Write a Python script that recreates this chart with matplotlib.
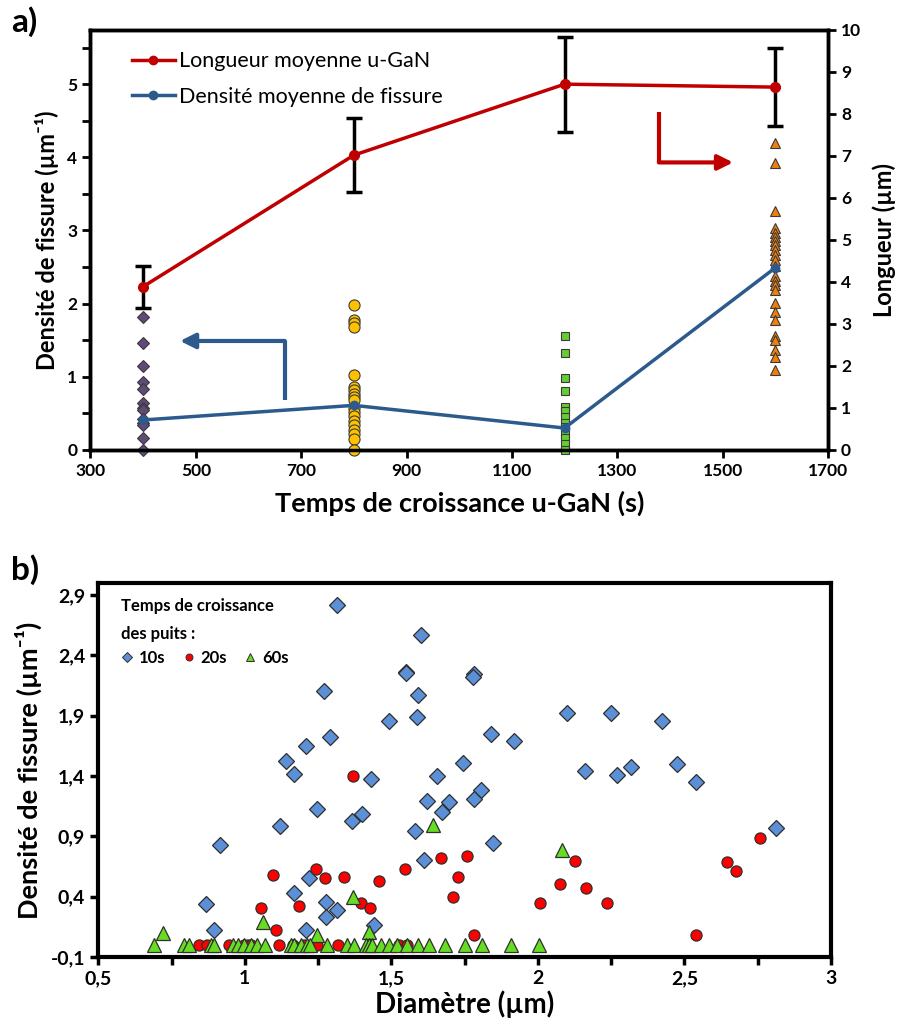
import matplotlib
matplotlib.use("Agg")
import matplotlib.pyplot as plt
from matplotlib.lines import Line2D
from matplotlib.ticker import FuncFormatter, MultipleLocator
import numpy as np

plt.rcParams["font.family"] = ["Lato", "DejaVu Sans"]

# ---- panel a) data ----
times = [400, 800, 1200, 1600]
longueur_moy = [3.89, 7.02, 8.71, 8.64]
longueur_err = [0.50, 0.88, 1.13, 0.93]
densite_moy = [0.41, 0.61, 0.30, 2.49]

dens_400 = [1.82, 1.46, 1.15, 0.93, 0.83, 0.64, 0.58, 0.55, 0.43, 0.37, 0.34, 0.17, 0.0]
dens_800 = [1.98, 1.78, 1.74, 1.68, 1.02, 0.86, 0.82, 0.77, 0.72, 0.68, 0.57, 0.52,
            0.46, 0.39, 0.34, 0.27, 0.22, 0.15, 0.0]
dens_1200 = [1.56, 1.33, 0.99, 0.81, 0.59, 0.53, 0.45, 0.37, 0.31, 0.24, 0.16, 0.08, 0.0]
dens_1600 = [4.20, 3.92, 3.27, 3.03, 2.97, 2.91, 2.86, 2.80, 2.73, 2.66, 2.60, 2.51,
             2.38, 2.31, 2.25, 2.18, 2.01, 1.89, 1.78, 1.56, 1.50, 1.37, 1.27, 1.09]

# ---- panel b) data ----
d10 = [1.313, 1.600, 1.551, 1.549, 1.783, 1.779, 1.270, 1.591, 1.589, 1.491, 1.290,
       1.209, 1.141, 1.169, 1.432, 1.654, 1.744, 1.805, 1.622, 1.696, 1.783, 1.672,
       1.399, 1.367, 1.247, 1.119, 1.581, 0.916, 1.612, 1.219, 1.169, 1.278, 1.313,
       1.278, 0.867, 0.896, 1.209, 1.440, 2.100, 2.249, 2.422, 1.839, 1.918, 2.160,
       2.269, 2.318, 2.473, 2.541, 2.814, 1.848]
v10 = [2.818, 2.571, 2.262, 2.250, 2.242, 2.222, 2.105, 2.070, 1.892, 1.853, 1.722,
       1.651, 1.522, 1.415, 1.379, 1.401, 1.511, 1.284, 1.196, 1.188, 1.210, 1.103,
       1.081, 1.029, 1.125, 0.982, 0.947, 0.829, 0.705, 0.552, 0.434, 0.352, 0.289,
       0.234, 0.338, 0.125, 0.125, 0.166, 1.919, 1.919, 1.853, 1.747, 1.689, 1.440,
       1.412, 1.473, 1.497, 1.352, 0.968, 0.842]

d20 = [1.368, 1.243, 1.096, 1.273, 1.337, 1.458, 1.546, 1.671, 1.758, 1.729, 1.710,
       1.056, 1.184, 1.395, 1.426, 1.106, 1.781, 2.007, 2.076, 2.126, 2.165, 2.236,
       2.538, 2.645, 2.675, 2.759,
       0.843, 0.871, 0.947, 0.996, 1.010, 1.021, 1.116, 1.165, 1.202, 1.236, 1.247,
       1.319, 1.527, 1.555]
v20 = [1.399, 0.626, 0.577, 0.552, 0.566, 0.530, 0.626, 0.722, 0.733, 0.566, 0.399,
       0.305, 0.325, 0.349, 0.303, 0.125, 0.086, 0.349, 0.505, 0.697, 0.470, 0.349,
       0.078, 0.686, 0.615, 0.886,
       0, 0, 0, 0, 0, 0, 0, 0, 0, 0, 0, 0, 0, 0]

d60 = [1.641, 1.370, 1.061, 0.720, 1.247, 1.423, 2.081,
       0.690, 0.793, 0.811, 0.884, 0.896, 0.958, 0.975, 0.998, 1.021, 1.041, 1.070,
       1.156, 1.169, 1.192, 1.212, 1.222, 1.279, 1.347, 1.372, 1.412, 1.423, 1.435,
       1.463, 1.492, 1.520, 1.555, 1.592, 1.629, 1.684, 1.751, 1.809, 1.907, 2.002]
v60 = [0.990, 0.399, 0.188, 0.097, 0.084, 0.111, 0.788] + [0] * 33


def comma(v, pos):
    return ("%g" % round(v, 2)).replace(".", ",")


fig = plt.figure(figsize=(9.01, 10.34), dpi=100)

# ================= panel a =================
ax = fig.add_axes([0.1004, 0.5648, 0.8185, 0.4062])
ax2 = ax.twinx()

red = "#C00000"
blue = "#2C5A8C"

for x, vals, mk, fc, ms in [(400, dens_400, "D", "#604A7B", 6),
                             (800, dens_800, "o", "#FFC000", 8),
                             (1200, dens_1200, "s", "#66CC33", 6),
                             (1600, dens_1600, "^", "#F07F09", 7.5)]:
    ax.plot([x] * len(vals), vals, ls="none", marker=mk, ms=ms, mfc=fc,
            mec="#3a3a3a", mew=0.8, zorder=3, clip_on=False)

ax.plot(times, densite_moy, color=blue, lw=2.5, marker="o", ms=6, zorder=4)
ax2.errorbar(times, longueur_moy, yerr=longueur_err, color=red, lw=2.5,
             marker="o", ms=7, ecolor="black", elinewidth=2.5, capsize=6,
             capthick=2.5, zorder=5)

# arrows
ax.plot([669, 669], [0.68, 1.49], color=blue, lw=3, solid_capstyle="butt")
ax.annotate("", xy=(470, 1.49), xytext=(669, 1.49),
            arrowprops=dict(arrowstyle="-|>,head_length=0.9,head_width=0.45",
                            color=blue, lw=3, shrinkA=0, shrinkB=0))
ax.plot([1379, 1379], [4.62, 3.93], color=red, lw=3, solid_capstyle="butt")
ax.annotate("", xy=(1520, 3.93), xytext=(1379, 3.93),
            arrowprops=dict(arrowstyle="-|>,head_length=0.9,head_width=0.45",
                            color=red, lw=3, shrinkA=0, shrinkB=0))

ax.set_xlim(300, 1700)
ax.set_ylim(0, 5.74)
ax2.set_ylim(0, 10)
ax.set_xticks(range(300, 1701, 200))
ax.yaxis.set_major_locator(MultipleLocator(1))
ax.yaxis.set_minor_locator(MultipleLocator(0.5))
ax2.yaxis.set_major_locator(MultipleLocator(1))

for a in (ax, ax2):
    for s in a.spines.values():
        s.set_linewidth(2.5)
    a.tick_params(width=2, length=6, labelsize=12.5, direction="out")
    for lab in a.get_xticklabels() + a.get_yticklabels():
        lab.set_fontweight("bold")
ax.tick_params(which="minor", width=2, length=6)

ax.set_xlabel("Temps de croissance u-GaN (s)", fontsize=19.5, fontweight="bold", labelpad=8)
ax.set_ylabel("Densité de fissure (µm⁻¹)", fontsize=17, fontweight="bold", labelpad=6)
ax2.set_ylabel("Longueur (µm)", fontsize=17, fontweight="bold", labelpad=8)

handles = [Line2D([], [], color=red, lw=2.5, marker="o", ms=6),
           Line2D([], [], color=blue, lw=2.5, marker="o", ms=6)]
ax2.legend(handles, ["Longueur moyenne u-GaN", "Densité moyenne de fissure"],
           loc="upper left", bbox_to_anchor=(0.03, 0.995), frameon=False,
           fontsize=15.5, handlelength=2.0, handletextpad=0.2, labelspacing=0.7)

fig.text(0.012, 0.979, "a)", fontsize=24, fontweight="bold", va="center")

# ================= panel b =================
bx = fig.add_axes([0.1091, 0.0745, 0.8132, 0.3617])
bx.plot(d10, v10, ls="none", marker="D", ms=8, mfc="#5B8FD6", mec="#2f2f2f", mew=0.9, zorder=3)
bx.plot(d20, v20, ls="none", marker="o", ms=8, mfc="#FF0000", mec="#2f2f2f", mew=0.9, zorder=4)
bx.plot(d60, v60, ls="none", marker="^", ms=9.5, mfc="#66DD22", mec="#2f2f2f", mew=0.9, zorder=5)

bx.set_xlim(0.5, 3.0)
bx.set_ylim(-0.1, 3.0)
bx.xaxis.set_major_locator(MultipleLocator(0.5))
bx.xaxis.set_minor_locator(MultipleLocator(0.25))
bx.set_yticks(np.round(np.arange(-0.1, 3.0, 0.5), 2))
bx.xaxis.set_major_formatter(FuncFormatter(comma))
bx.yaxis.set_major_formatter(FuncFormatter(comma))
for s in bx.spines.values():
    s.set_linewidth(3)
bx.tick_params(which="both", width=2.5, length=6, labelsize=14, direction="out")
for lab in bx.get_xticklabels() + bx.get_yticklabels():
    lab.set_fontweight("bold")

bx.set_xlabel("Diamètre (µm)", fontsize=20, fontweight="bold", labelpad=2)
bx.set_ylabel("Densité de fissure (µm⁻¹)", fontsize=19.5, fontweight="bold", labelpad=6)

lh = [Line2D([], [], ls="none", marker="D", ms=5, mfc="#5B8FD6", mec="#2f2f2f", mew=0.7),
      Line2D([], [], ls="none", marker="o", ms=5, mfc="#FF0000", mec="#2f2f2f", mew=0.7),
      Line2D([], [], ls="none", marker="^", ms=6, mfc="#66DD22", mec="#2f2f2f", mew=0.7)]
leg = bx.legend(lh, ["10s", "20s", "60s"], ncol=3, loc="upper left",
                bbox_to_anchor=(0.01, 1.0), frameon=False,
                title="Temps de croissance\ndes puits :",
                title_fontproperties={"weight": "bold", "size": 12},
                prop={"weight": "bold", "size": 12},
                handlelength=0.8, handletextpad=0.3, columnspacing=1.0)
leg._legend_box.align = "left"
leg.get_title().set_linespacing(1.9)

fig.text(0.012, 0.449, "b)", fontsize=24, fontweight="bold", va="center")

fig.savefig("out.png", dpi=100)
